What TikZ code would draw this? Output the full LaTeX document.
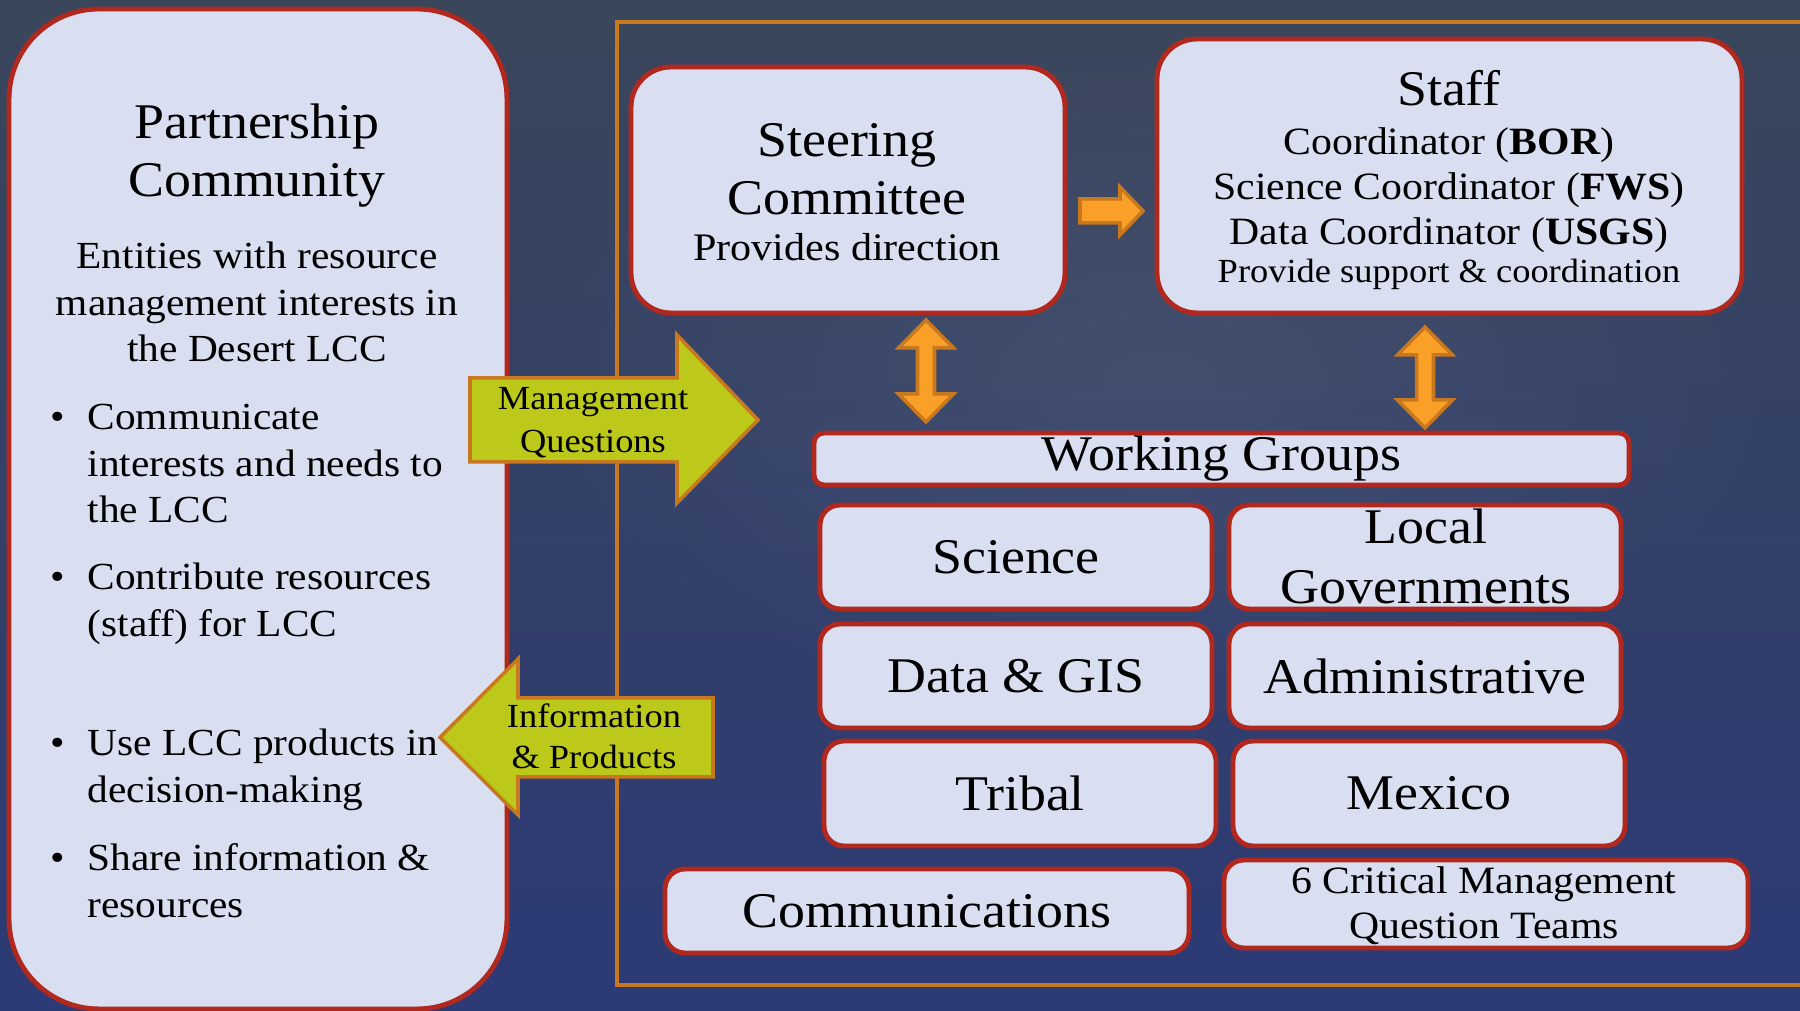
\documentclass[tikz,border=0pt]{standalone}
\usepackage{fontspec}
\setmainfont{Liberation Serif}[FakeStretch=1.08]
\usetikzlibrary{fadings}

\definecolor{boxfill}{RGB}{217,222,240}
\definecolor{boxline}{RGB}{176,40,30}
\definecolor{frameline}{RGB}{200,120,30}
\definecolor{lime}{RGB}{188,201,26}
\definecolor{amber}{RGB}{250,160,40}
\definecolor{bgtop}{RGB}{58,70,90}
\definecolor{bgbottom}{RGB}{44,58,118}
\tikzfading[name=glow, inner color=transparent!0, outer color=transparent!100]

\begin{document}
\begin{tikzpicture}[
    box/.style={draw=boxline, line width=1.4pt, fill=boxfill, rounded corners=0.4cm, inner sep=0pt},
    group/.style={box, rounded corners=0.2cm, minimum width=3.92cm, minimum height=1.04cm, font=\fontsize{14.2}{16.8}\selectfont},
    blockarrow/.style={draw=frameline, line width=1pt, fill=lime},
    orangearrow/.style={draw=frameline, line width=1pt, fill=amber},
    big/.style={font=\fontsize{14.2}{16.5}\selectfont},
    body/.style={font=\fontsize{10.9}{13.1}\selectfont},
]
    % background
    \clip (0,0) rectangle (18,10.11);
    \shade[top color=bgtop, bottom color=bgbottom] (0,0) rectangle (18,10.11);
    \fill[white, opacity=0.07, path fading=glow] (11.6,6.3) ellipse (6.5 and 3.6);

    % frame around the LCC structure
    \draw[frameline, line width=0.9pt] (18.5,9.89) -- (6.17,9.89) -- (6.17,0.26) -- (18.5,0.26);

    % partnership community panel
    \node[box, rounded corners=0.9cm, minimum width=4.98cm, minimum height=10.0cm] (partner) at (2.58,5.02) {};
    \node[big, anchor=base] (ptitle) at (2.57,8.72) {\begin{tabular}[t]{@{}c@{}}Partnership\\Community\end{tabular}};
    \node[body, anchor=base] (pdesc) at (2.57,7.42) {\begin{tabular}[t]{@{}c@{}}Entities with resource\\management interests in\\the Desert LCC\end{tabular}};

    % bullets
    \node[body, anchor=base west, inner sep=0pt] (b1) at (0.50,5.81) {\begin{tabular}[t]{@{}p{0.37cm}@{}l@{}}\textbullet & Communicate\\ & interests and needs to\\ & the LCC\end{tabular}};
    \node[body, anchor=base west, inner sep=0pt] (b2) at (0.50,4.21) {\begin{tabular}[t]{@{}p{0.37cm}@{}l@{}}\textbullet & Contribute resources\\ & (staff) for LCC\end{tabular}};
    \node[body, anchor=base west, inner sep=0pt] (b3) at (0.50,2.55) {\begin{tabular}[t]{@{}p{0.37cm}@{}l@{}}\textbullet & Use LCC products in\\ & decision-making\end{tabular}};
    \node[body, anchor=base west, inner sep=0pt] (b4) at (0.50,1.40) {\begin{tabular}[t]{@{}p{0.37cm}@{}l@{}}\textbullet & Share information \&\\ & resources\end{tabular}};

    % steering committee and staff
    \node[box, minimum width=4.34cm, minimum height=2.46cm] (steer) at (8.48,8.21) {};
    \node[big, anchor=base] (steertxt) at (8.47,8.54) {\begin{tabular}[t]{@{}c@{}}Steering\\Committee\end{tabular}};
    \node[anchor=base, font=\fontsize{11.1}{13}\selectfont] (steersub) at (8.47,7.50) {Provides direction};

    \node[box, minimum width=5.85cm, minimum height=2.74cm] (staff) at (14.495,8.35) {};
    \node[big, anchor=base] (stafftxt) at (14.49,9.05) {Staff};
    \node[anchor=base, font=\fontsize{11.0}{12.7}\selectfont] (staffroles) at (14.49,8.56) {\begin{tabular}[t]{@{}c@{}}Coordinator (\textbf{BOR})\\Science Coordinator (\textbf{FWS})\\Data Coordinator (\textbf{USGS})\end{tabular}};
    \node[anchor=base, font=\fontsize{9.6}{11}\selectfont] (staffsub) at (14.49,7.28) {Provide support \& coordination};

    % working groups
    \node[box, rounded corners=0.1cm, minimum width=8.15cm, minimum height=0.52cm, big] (wg) at (12.215,5.52) {Working Groups};
    \node[group] (science) at (10.16,4.54) {Science};
    \node[group] (local) at (14.25,4.54) {};
    \node[font=\fontsize{14.2}{16.8}\selectfont, anchor=base] (localtxt) at (14.26,4.67) {\begin{tabular}[t]{@{}c@{}}Local\\Governments\end{tabular}};
    \node[group] (data) at (10.16,3.35) {Data \& GIS};
    \node[group] (admin) at (14.25,3.35) {Administrative};
    \node[group, minimum height=1.05cm] (tribal) at (10.20,2.175) {Tribal};
    \node[group, minimum height=1.05cm] (mexico) at (14.29,2.175) {Mexico};
    \node[group, minimum width=5.24cm, minimum height=0.84cm] (comm) at (9.27,1.00) {Communications};
    \node[group, minimum width=5.24cm, minimum height=0.88cm] (cmq) at (14.86,1.07) {};
    \node[anchor=base, font=\fontsize{11.0}{12.8}\selectfont] (cmqtxt) at (14.84,1.17) {\begin{tabular}[t]{@{}c@{}}6 Critical Management\\Question Teams\end{tabular}};

    % orange arrows
    \draw[orangearrow] (10.80,8.12) -- (11.20,8.12) -- (11.20,8.24) -- (11.43,8.00) -- (11.20,7.76) -- (11.20,7.88) -- (10.80,7.88) -- cycle;
    \draw[orangearrow] (9.26,6.91) -- ++(0.275,-0.28) -- ++(-0.19,0) -- ++(0,-0.46) -- ++(0.19,0) -- (9.26,5.89)
        -- ++(-0.275,0.28) -- ++(0.19,0) -- ++(0,0.46) -- ++(-0.19,0) -- cycle;
    \draw[orangearrow] (14.25,6.84) -- ++(0.275,-0.28) -- ++(-0.19,0) -- ++(0,-0.45) -- ++(0.19,0) -- (14.25,5.83)
        -- ++(-0.275,0.28) -- ++(0.19,0) -- ++(0,0.45) -- ++(-0.19,0) -- cycle;

    % questions in, products out
    \draw[blockarrow] (4.70,6.33) -- (6.77,6.33) -- (6.77,6.76) -- (7.58,5.91) -- (6.77,5.08) -- (6.77,5.49) -- (4.70,5.49) -- cycle;
    \node[anchor=base, font=\fontsize{9.6}{12}\selectfont] (mq) at (5.93,6.01) {\begin{tabular}[t]{@{}c@{}}Management\\Questions\end{tabular}};
    \draw[blockarrow] (7.13,3.13) -- (5.18,3.13) -- (5.18,3.52) -- (4.40,2.735) -- (5.18,1.96) -- (5.18,2.34) -- (7.13,2.34) -- cycle;
    \node[anchor=base, font=\fontsize{9.6}{11.4}\selectfont] (ip) at (5.94,2.83) {\begin{tabular}[t]{@{}c@{}}Information\\\& Products\end{tabular}};
\end{tikzpicture}
\end{document}
